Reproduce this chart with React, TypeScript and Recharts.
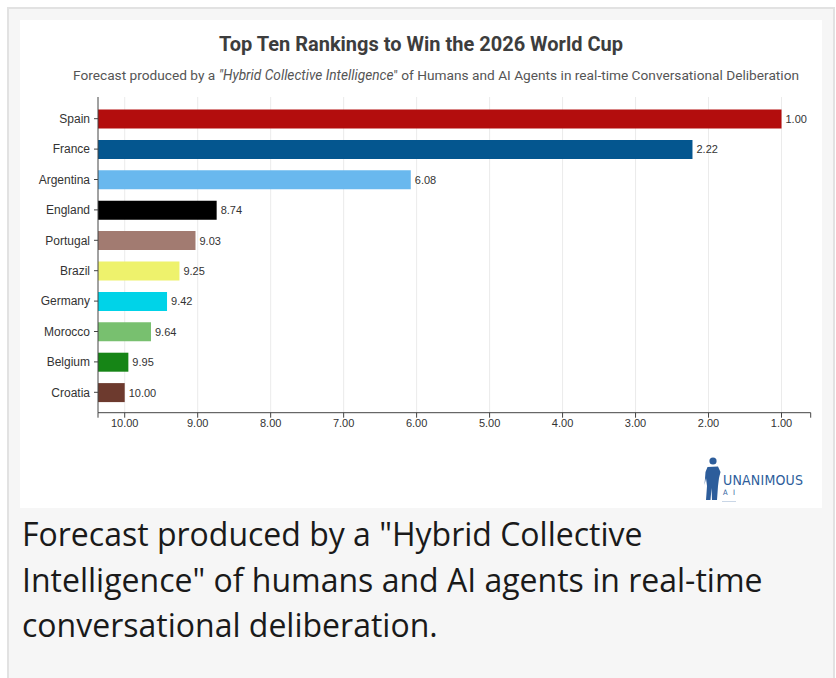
import React from 'react';
import { BarChart, Bar, XAxis, YAxis, CartesianGrid, Cell, LabelList } from 'recharts';

const countries = ['Spain', 'France', 'Argentina', 'England', 'Portugal', 'Brazil', 'Germany', 'Morocco', 'Belgium', 'Croatia'];
const ranks = [1.0, 2.22, 6.08, 8.74, 9.03, 9.25, 9.42, 9.64, 9.95, 10.0];
const barColors = ['#b30d0d', '#04568f', '#69b8ee', '#000000', '#a27b71', '#eef26c', '#00d3e8', '#78c06f', '#168516', '#6d3a2e'];
const xTicks = [10, 9, 8, 7, 6, 5, 4, 3, 2, 1];
const DOMAIN_LOW = 0.6;
const DOMAIN_HIGH = 10.366;

const data = countries.map((name, i) => ({ name, rank: ranks[i], span: [DOMAIN_HIGH, ranks[i]] }));
const allTicks = [DOMAIN_HIGH, ...xTicks, DOMAIN_LOW];

const TITLE = 'Top Ten Rankings to Win the 2026 World Cup';
const CAPTION = [
  'Forecast produced by a "Hybrid Collective',
  'Intelligence" of humans and AI agents in real-time',
  'conversational deliberation.',
];

export default function App() {
  return (
    <div style={{ position: 'absolute', left: 0, top: 0, width: 836, height: 678, overflow: 'hidden', background: '#fff' }}>
      <div
        style={{
          position: 'absolute',
          left: 7,
          top: 7,
          width: 824,
          height: 720,
          border: '2px solid #e2e2e2',
          background: '#f6f6f6',
        }}
      />
      <div style={{ position: 'absolute', left: 20, top: 20, width: 802, height: 488, background: '#fff' }} />
      <div style={{ position: 'absolute', left: 0, top: 0 }}>
        <BarChart
          width={836}
          height={520}
          data={data}
          layout="vertical"
          margin={{ top: 97, right: 25.3, bottom: 77.3, left: 18 }}
        >
          <CartesianGrid horizontal={false} stroke="#ebebeb" verticalValues={xTicks} />
          <XAxis
            type="number"
            domain={[DOMAIN_LOW, DOMAIN_HIGH]}
            reversed
            allowDataOverflow
            ticks={allTicks}
            interval={0}
            height={30}
            tickSize={5}
            tickMargin={1}
            stroke="#444"
            tick={{ fontSize: 11, fill: '#333', fontFamily: 'Liberation Sans, Arial, sans-serif' }}
            tickFormatter={(v: number) => (xTicks.includes(v) ? v.toFixed(2) : '')}
          />
          <YAxis
            type="category"
            dataKey="name"
            width={80}
            tickSize={4}
            tickMargin={4}
            stroke="#444"
            padding={{ top: 6.5, bottom: 5.2 }}
            interval={0}
            tick={{ fontSize: 12, fill: '#333', fontFamily: 'Liberation Sans, Arial, sans-serif' }}
          />
          <Bar dataKey="span" barSize={19} isAnimationActive={false}>
            {data.map((d, i) => (
              <Cell key={d.name} fill={barColors[i]} />
            ))}
            <LabelList
              dataKey="rank"
              position="right"
              offset={4}
              formatter={(v: any) => Number(v).toFixed(2)}
              style={{ fontSize: 11, fill: '#333', fontFamily: 'Liberation Sans, Arial, sans-serif' }}
            />
          </Bar>
        </BarChart>
      </div>
      <svg width={836} height={520} style={{ position: 'absolute', left: 0, top: 0, pointerEvents: 'none' }}>
        <text x={421} y={50.5} textAnchor="middle" fontFamily="Roboto, sans-serif" fontWeight="bold" fontSize={20} fill="#3d3d3d">
          {TITLE}
        </text>
        <text x={436} y={80} textAnchor="middle" fontFamily="Roboto, sans-serif" fontSize={13.7} fill="#555">
          <tspan>Forecast produced by a </tspan>
          <tspan fontStyle="italic">"Hybrid Collective Intelligence</tspan>
          <tspan>" of Humans and AI Agents in real-time Conversational Deliberation</tspan>
        </text>
        <g fill="#2d5d9b">
          <circle cx={713} cy={461} r={3.6} />
          <path d="M707.5,467 L718,466.5 L720.5,472 L719,478 L718,486 L717,500 L712,500 L711.5,488 L710.5,500 L706,500 L707,486 L706,478 L704.5,485 L705.5,472 Z" />
          <text
            x={723}
            y={484.5}
            fontFamily="DejaVu Sans Condensed, Liberation Sans Narrow, sans-serif"
            fontSize={14}
            textLength={80}
            lengthAdjust="spacing"
          >
            UNANIMOUS
          </text>
          <text x={723} y={495} fontFamily="DejaVu Sans Condensed, sans-serif" fontSize={7.5} textLength={12} lengthAdjust="spacing">
            AI
          </text>
        </g>
        <line x1={722} y1={501.5} x2={736} y2={501.5} stroke="#c9d6e6" strokeWidth={1} />
      </svg>
      <div
        style={{
          position: 'absolute',
          left: 22,
          top: 511,
          fontFamily: '"Open Sans", sans-serif',
          fontSize: 32,
          lineHeight: '45.5px',
          color: '#1a1a1a',
          whiteSpace: 'nowrap',
        }}
      >
        {CAPTION.map((line) => (
          <div key={line}>{line}</div>
        ))}
      </div>
    </div>
  );
}
